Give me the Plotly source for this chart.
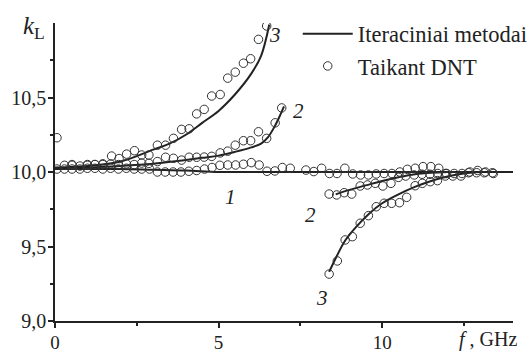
import plotly.graph_objects as go

# ---- data ----
# Iterative-method curves (lines)
line1_f = [0, 1, 2, 3, 4, 5, 6, 8, 10, 12, 14]
line1_k = [10.02, 10.02, 10.02, 10.015, 10.01, 10.0, 10.0, 10.0, 10.0, 10.0, 10.0]

line2_f = [0, 1, 2, 3, 3.8, 4.5, 5.0, 5.5, 6.0, 6.3, 6.5, 6.7, 6.88, 7.0]
line2_k = [10.02, 10.03, 10.04, 10.055, 10.075, 10.095, 10.11, 10.135, 10.165, 10.19, 10.23, 10.3, 10.38, 10.44]

line3_f = [0, 1, 2, 3, 3.5, 4, 4.5, 5, 5.5, 6, 6.3, 6.55]
line3_k = [10.03, 10.04, 10.07, 10.15, 10.19, 10.25, 10.33, 10.41, 10.52, 10.66, 10.78, 10.99]

line2b_f = [8.58, 9.0, 9.5, 10.0, 10.5, 11.0, 11.5, 12.0]
line2b_k = [9.85, 9.88, 9.91, 9.94, 9.965, 9.985, 9.995, 10.0]

line3b_f = [8.38, 8.6, 8.87, 9.2, 9.6, 10.0, 10.5, 11.0, 11.5, 12.0, 12.5, 13.0]
line3b_k = [9.33, 9.43, 9.54, 9.63, 9.72, 9.79, 9.85, 9.9, 9.94, 9.97, 9.99, 10.0]

# DNT points
dnt1_f = [0.06, 0.29, 0.52, 0.76, 0.99, 1.22, 1.46, 1.70, 1.94, 2.18, 2.42, 2.65, 2.89,
          3.13, 3.37, 3.61, 3.85, 4.09, 4.33, 4.57, 4.80, 5.04, 5.28, 5.52, 5.76, 6.00,
          6.24, 6.48, 6.72, 6.95, 7.19, 7.67, 7.91, 8.15, 8.39, 8.62, 8.86, 9.10, 9.34,
          9.58, 9.82, 10.06, 10.30, 10.54, 10.77, 11.01, 11.25, 11.49, 11.73, 11.97,
          12.20, 12.44, 12.68, 12.92, 13.16, 13.40]
dnt1_k = [10.02, 10.02, 10.02, 10.02, 10.025, 10.025, 10.02, 10.025, 10.02, 10.025, 10.02,
          10.02, 10.02, 10.0, 10.0, 10.0, 10.0, 10.005, 10.01, 10.02, 10.03, 10.045, 10.047,
          10.047, 10.052, 10.063, 10.047, 10.005, 10.007, 10.03, 10.025, 10.013, 10.003,
          10.025, 9.99, 9.99, 10.025, 9.987, 9.98, 9.98, 9.987, 9.99, 9.99, 10.0, 10.018,
          10.025, 10.036, 10.036, 10.025, 9.99, 9.99, 9.99, 10.0, 10.01, 10.0, 9.99]

dnt2_f = [0.29, 0.52, 0.76, 0.99, 1.22, 1.46, 1.70, 1.94, 2.18, 2.42, 2.65, 2.87, 3.13,
          3.38, 3.62, 3.87, 4.10, 4.33, 4.56, 4.79, 5.05, 5.28, 5.51, 5.76, 5.98, 6.22,
          6.47, 6.73, 6.93]
dnt2_k = [10.045, 10.045, 10.04, 10.045, 10.05, 10.05, 10.054, 10.05, 10.055, 10.05, 10.06,
          10.058, 10.07, 10.099, 10.092, 10.08, 10.099, 10.099, 10.1, 10.105, 10.128, 10.14,
          10.18, 10.21, 10.21, 10.27, 10.226, 10.33, 10.43]

dnt3_f = [0.06, 0.52, 0.99, 1.22, 1.46, 1.73, 1.96, 2.19, 2.43, 2.65, 2.87, 3.13, 3.38,
          3.62, 3.87, 4.10, 4.33, 4.56, 4.79, 5.05, 5.28, 5.51, 5.76, 5.98, 6.22, 6.47]
dnt3_k = [10.23, 10.05, 10.05, 10.05, 10.055, 10.107, 10.09, 10.12, 10.143, 10.114, 10.114,
          10.18, 10.18, 10.226, 10.286, 10.29, 10.39, 10.42, 10.51, 10.52, 10.63, 10.67,
          10.73, 10.76, 10.89, 10.98]

dnt2b_f = [8.38, 8.61, 8.84, 9.07, 9.33, 9.55, 9.79, 10.02, 10.27, 10.5, 10.72, 10.98,
           11.22, 11.46, 11.7, 11.94]
dnt2b_k = [9.852, 9.846, 9.861, 9.852, 9.906, 9.913, 9.924, 9.906, 9.924, 9.964, 9.973,
           9.98, 9.985, 9.985, 9.99, 9.99]

dnt3b_f = [8.38, 8.63, 8.87, 9.09, 9.33, 9.58, 9.82, 10.06, 10.29, 10.53, 10.75, 11.01,
           11.23, 11.47, 11.69, 11.93, 12.16, 12.41, 12.64, 12.89, 13.12, 13.37]
dnt3b_k = [9.315, 9.403, 9.544, 9.566, 9.656, 9.707, 9.767, 9.79, 9.79, 9.794, 9.83, 9.908,
           9.924, 9.935, 9.942, 9.973, 9.973, 9.973, 9.995, 9.995, 9.995, 9.995]

y_tickvals = [9.0, 9.5, 10.0, 10.5]
y_ticktext = ["9,0", "9,5", "10,0", "10,5"]
x_tickvals = [0, 5, 10]
x_ticktext = ["0", "5", "10"]

curve_labels = [("3", 6.73, 10.92), ("2", 7.43, 10.41), ("1", 5.35, 9.83),
                ("2", 7.8, 9.71), ("3", 8.16, 9.155)]

FONT = "Liberation Serif, Times New Roman, serif"
INK = "#222222"

fig = go.Figure()

lines = [(line1_f, line1_k), (line2_f, line2_k), (line3_f, line3_k),
         (line2b_f, line2b_k), (line3b_f, line3b_k)]
for i, (fx, ky) in enumerate(lines):
    fig.add_trace(go.Scatter(x=fx, y=ky, mode="lines", line=dict(color=INK, width=2, shape="spline"),
                             name="Iteraciniai metodai", showlegend=(i == 0)))

pts = [(dnt1_f, dnt1_k), (dnt2_f, dnt2_k), (dnt3_f, dnt3_k), (dnt2b_f, dnt2b_k), (dnt3b_f, dnt3b_k)]
for i, (fx, ky) in enumerate(pts):
    fig.add_trace(go.Scatter(x=fx, y=ky, mode="markers",
                             marker=dict(symbol="circle-open", size=8.5, color="#333333", line=dict(width=1)),
                             name="Taikant DNT", showlegend=(i == 0)))

for txt, fx, ky in curve_labels:
    fig.add_annotation(x=fx, y=ky, text=f"<i>{txt}</i>", showarrow=False,
                       font=dict(family=FONT, size=21, color=INK))

fig.add_annotation(xref="paper", yref="paper", x=-0.075, y=0.985, xanchor="left", yanchor="middle",
                   text="<i>k</i><sub>L</sub>", showarrow=False,
                   font=dict(family=FONT, size=25, color=INK))
fig.add_annotation(xref="paper", yref="paper", x=1.013, y=-0.063, xanchor="right", yanchor="middle",
                   text="<i>f</i> , GHz", showarrow=False,
                   font=dict(family=FONT, size=20, color=INK))

fig.update_layout(
    width=531, height=352,
    margin=dict(l=55, r=18, t=23, b=31, autoexpand=False),
    paper_bgcolor="white", plot_bgcolor="white",
    font=dict(family=FONT, size=20, color=INK),
    legend=dict(x=0.53, y=1.035, xanchor="left", yanchor="top", bgcolor="rgba(0,0,0,0)",
                font=dict(family=FONT, size=22.5, color=INK), itemwidth=50, tracegroupgap=0),
)
fig.update_xaxes(range=[0, 14], showgrid=False, zeroline=False, showline=True, linecolor=INK,
                 linewidth=1.5, ticks="outside", ticklen=5, tickwidth=1.5, tickcolor=INK,
                 tickvals=x_tickvals, ticktext=x_ticktext, automargin=False, ticklabelstandoff=-2,
                 tickfont=dict(size=19),
                 minor=dict(tickvals=[2.5, 7.5, 12.5], ticks="outside", ticklen=3, tickcolor=INK, tickwidth=1.5))
fig.update_yaxes(range=[9.0, 11.0], showgrid=False, zeroline=False, showline=True, linecolor=INK,
                 linewidth=1.5, ticks="outside", ticklen=5, tickwidth=1.5, tickcolor=INK,
                 tickvals=y_tickvals, ticktext=y_ticktext, automargin=False, ticklabelstandoff=-2,
                 minor=dict(tickvals=[9.25, 9.75, 10.25, 10.75], ticks="outside", ticklen=3, tickcolor=INK, tickwidth=1.5))

fig.write_html("out.html", config={"displayModeBar": False},
               post_script="document.body.style.margin='0';")
